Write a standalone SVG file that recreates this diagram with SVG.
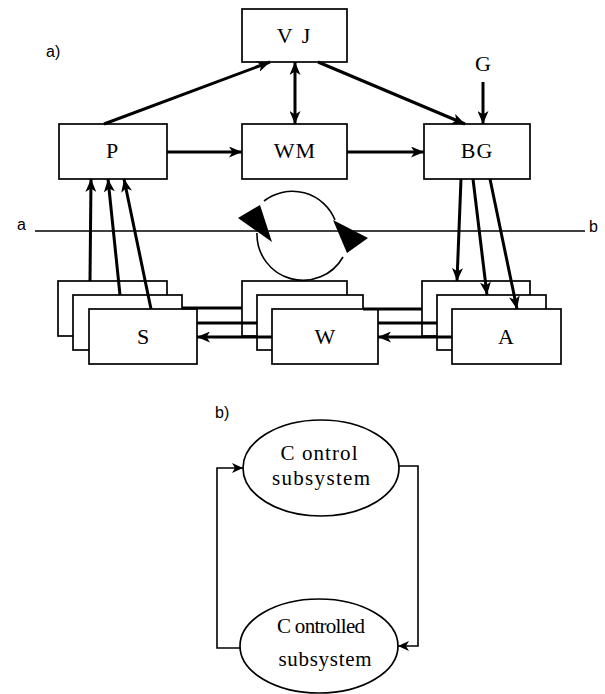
<svg xmlns="http://www.w3.org/2000/svg" width="605" height="694" viewBox="0 0 605 694">
<style>
.box{fill:#fff;stroke:#000;stroke-width:1.7}
.lbl{font-family:"Liberation Serif","DejaVu Serif",serif;font-size:22px;fill:#000;text-anchor:middle}
.lbl2{font-family:"Liberation Serif","DejaVu Serif",serif;font-size:21px;fill:#000;text-anchor:middle}
.sans{font-family:"Liberation Sans","DejaVu Sans",sans-serif;font-size:16px;fill:#000}
.thick{stroke:#000;stroke-width:3;fill:none}
.thin{stroke:#000;stroke-width:1.6;fill:none}
</style>
<defs>
<marker id="ah" markerWidth="13" markerHeight="11" refX="13" refY="5.5" orient="auto-start-reverse" markerUnits="userSpaceOnUse">
<path d="M0,0 L13,5.5 L0,11 L3.5,5.5 z" fill="#000"/>
</marker>
<marker id="ahs" markerWidth="11" markerHeight="10" refX="11" refY="5" orient="auto" markerUnits="userSpaceOnUse">
<path d="M0,0 L11,5 L0,10 L3,5 z" fill="#000"/>
</marker>
</defs>
<rect width="605" height="694" fill="#fff"/>

<text class="sans" x="46" y="57">a)</text>
<text class="sans" x="17" y="230">a</text>
<text class="sans" x="589" y="232">b</text>
<line x1="35" y1="231" x2="585" y2="231" stroke="#000" stroke-width="1.6"/>

<g id="VJ"><rect class="box" x="242" y="9" width="105" height="53"/><text class="lbl" x="294.5" y="43" letter-spacing="2">V J</text></g>
<g id="G"><text class="lbl" x="483" y="71">G</text></g>
<g id="P"><rect class="box" x="59" y="124" width="108" height="55"/><text class="lbl" x="112" y="158">P</text></g>
<g id="WM"><rect class="box" x="242" y="124" width="105" height="55"/><text class="lbl" x="295" y="158" letter-spacing="1">WM</text></g>
<g id="BG"><rect class="box" x="424" y="124" width="106" height="55"/><text class="lbl" x="477" y="158" letter-spacing="1">BG</text></g>

<g id="S">
<rect class="box" x="58" y="281" width="109" height="55"/>
<rect class="box" x="73" y="295" width="109" height="55"/>
<rect class="box" x="89" y="309" width="108" height="55"/>
<text class="lbl" x="143" y="344">S</text>
</g>
<g id="W">
<rect class="box" x="242" y="281" width="105" height="55"/>
<rect class="box" x="257" y="295" width="106" height="55"/>
<rect class="box" x="272" y="309" width="106" height="55"/>
<text class="lbl" x="325" y="344">W</text>
</g>
<g id="A">
<rect class="box" x="422" y="281" width="108" height="55"/>
<rect class="box" x="437" y="295" width="109" height="55"/>
<rect class="box" x="452" y="309" width="109" height="55"/>
<text class="lbl" x="506" y="344">A</text>
</g>

<g id="cycle">
<path class="thin" d="M264,201 A46,46 0 0 1 335,220"/>
<path class="thin" d="M343,257 A46,46 0 0 1 257,233"/>
<polygon points="333,220 368,238 347,253" fill="#000"/>
<polygon points="238,218 272,242 260,205" fill="#000"/>
</g>

<g id="connectors">
<line class="thick" x1="104" y1="124" x2="270" y2="62" marker-end="url(#ah)"/>
<line class="thick" x1="295" y1="62" x2="295" y2="124" marker-start="url(#ah)" marker-end="url(#ah)"/>
<line class="thick" x1="318" y1="62" x2="465" y2="124" marker-end="url(#ah)"/>
<line class="thick" x1="483" y1="82" x2="483" y2="124" marker-end="url(#ah)"/>
<line class="thick" x1="167" y1="152" x2="242" y2="152" marker-end="url(#ah)"/>
<line class="thick" x1="347" y1="152" x2="424" y2="152" marker-end="url(#ah)"/>

<line class="thick" x1="90" y1="281" x2="91" y2="179" marker-end="url(#ah)"/>
<line class="thick" x1="120" y1="295" x2="108" y2="179" marker-end="url(#ah)"/>
<line class="thick" x1="151" y1="309" x2="124" y2="179" marker-end="url(#ah)"/>

<line class="thick" x1="461" y1="179" x2="457" y2="281" marker-end="url(#ah)"/>
<line class="thick" x1="473" y1="179" x2="487" y2="295" marker-end="url(#ah)"/>
<line class="thick" x1="490" y1="179" x2="517" y2="309" marker-end="url(#ah)"/>

<line class="thick" x1="182" y1="308" x2="242" y2="308"/>
<line class="thick" x1="197" y1="323" x2="257" y2="323"/>
<line class="thick" x1="272" y1="337" x2="197" y2="337" marker-end="url(#ah)"/>
<line class="thick" x1="363" y1="309" x2="422" y2="309"/>
<line class="thick" x1="378" y1="323" x2="437" y2="323"/>
<line class="thick" x1="452" y1="337" x2="378" y2="337" marker-end="url(#ah)"/>

<polyline class="thin" points="241,648 217,648 217,468 243,468" marker-end="url(#ahs)"/>
<polyline class="thin" points="399,466 418,466 418,646 398,646" marker-end="url(#ahs)"/>
</g>

<text class="sans" x="215" y="418">b)</text>
<g id="control"><ellipse class="box" cx="321" cy="468" rx="78" ry="48"/>
<text class="lbl2" x="319" y="460" textLength="77" lengthAdjust="spacing">C ontrol</text>
<text class="lbl2" x="321" y="485" textLength="98" lengthAdjust="spacing">subsystem</text></g>
<g id="controlled"><ellipse class="box" cx="319" cy="646" rx="79" ry="47"/>
<text class="lbl2" x="321" y="633" textLength="88" lengthAdjust="spacing">C ontrolled</text>
<text class="lbl2" x="325" y="666" textLength="93" lengthAdjust="spacing">subsystem</text></g>
</svg>
